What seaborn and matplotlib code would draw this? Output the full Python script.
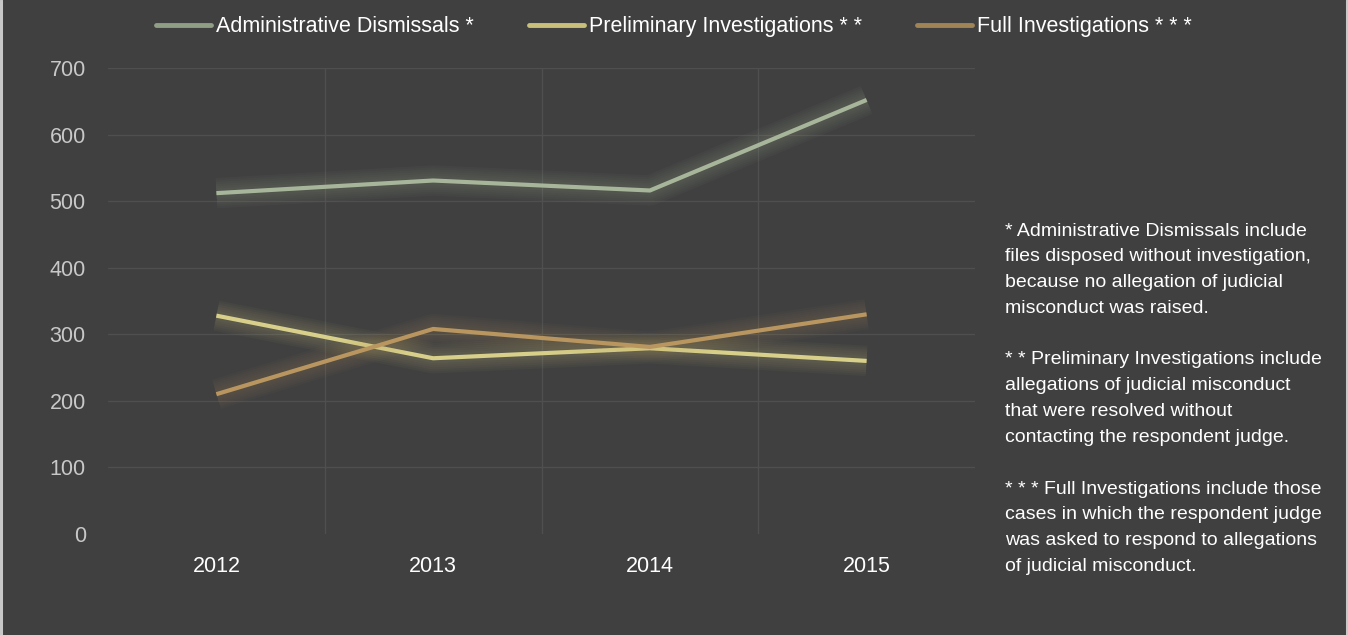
import matplotlib
matplotlib.use("Agg")
import matplotlib.pyplot as plt
import matplotlib.patheffects as pe
from matplotlib.lines import Line2D
import seaborn as sns
import pandas as pd

# ---- data ----
years = ["2012", "2013", "2014", "2015"]
admin_dismissals = [512, 531, 516, 652]
preliminary_inv = [328, 264, 279, 260]
full_inv = [210, 308, 281, 330]
series_names = ["Administrative Dismissals *", "Preliminary Investigations * *", "Full Investigations * * *"]
y_ticks = [0, 100, 200, 300, 400, 500, 600, 700]
notes = [
    "* Administrative Dismissals include",
    "files disposed without investigation,",
    "because no allegation of judicial",
    "misconduct was raised.",
    "",
    "* * Preliminary Investigations include",
    "allegations of judicial misconduct",
    "that were resolved without",
    "contacting the respondent judge.",
    "",
    "* * * Full Investigations include those",
    "cases in which the respondent judge",
    "was asked to respond to allegations",
    "of judicial misconduct.",
]

BG = "#404040"
line_colors = ["#a7b69a", "#d8d08a", "#b99660"]
legend_colors = ["#8f9e84", "#c8c07a", "#a08455"]

sns.set_theme(style="dark")
plt.rcParams["font.family"] = ["Liberation Sans", "DejaVu Sans"]

df = pd.DataFrame({
    "year": years * 3,
    "value": admin_dismissals + preliminary_inv + full_inv,
    "series": [series_names[0]] * 4 + [series_names[1]] * 4 + [series_names[2]] * 4,
})

W, H = 1348, 635
fig = plt.figure(figsize=(W / 100, H / 100), dpi=100, facecolor=BG)
ax = fig.add_axes([108 / W, 1 - 534 / H, (975 - 108) / W, (534 - 68) / H])
ax.set_facecolor(BG)

sns.lineplot(data=df, x="year", y="value", hue="series", palette=line_colors,
             linewidth=3, ax=ax, legend=False, sort=False)

for ln, c in zip(ax.lines, line_colors):
    ln.set_solid_capstyle("butt")
    effects = [pe.Stroke(linewidth=w, foreground=c, alpha=0.035) for w in (22, 19, 16, 13, 10, 7)]
    effects.append(pe.Normal())
    ln.set_path_effects(effects)

ax.set_xlim(-0.5, len(years) - 0.5)
ax.set_ylim(0, 700)
ax.set_yticks(y_ticks)
ax.set_xlabel("")
ax.set_ylabel("")
ax.tick_params(axis="y", colors="#c8c8c8", labelsize=15.5, length=0, pad=16)
ax.tick_params(axis="x", colors="#ffffff", labelsize=15.5, length=0, pad=16)
for s in ax.spines.values():
    s.set_visible(False)

# grid lines
ax.grid(False)
for yv in y_ticks[1:]:
    ax.axhline(yv, color="#4f4f4f", lw=1.0, zorder=0)
for xv in [0.5, 1.5, 2.5]:
    ax.axvline(xv, color="#4f4f4f", lw=1.0, zorder=0)

# legend
handles = [Line2D([0], [0], color=c, lw=3.5) for c in legend_colors]
leg = fig.legend(handles, series_names, loc="upper center", bbox_to_anchor=(0.5, 1.005),
                 ncol=3, frameon=False, fontsize=15.5, handlelength=2.55,
                 handletextpad=0.25, columnspacing=2.55, labelcolor="white")

# notes
y0 = 231
step = 25.8
for i, t in enumerate(notes):
    if t:
        fig.text(1005 / W, 1 - (y0 + i * step) / H, t, color="white",
                 fontsize=14, ha="left", va="center")

# side borders
for xb in (1.0 / W, 1 - 1.5 / W):
    fig.add_artist(Line2D([xb, xb], [0, 1], transform=fig.transFigure,
                          color="#c8c8c8", lw=2.2))

fig.savefig("out.png", dpi=100, facecolor=BG)
